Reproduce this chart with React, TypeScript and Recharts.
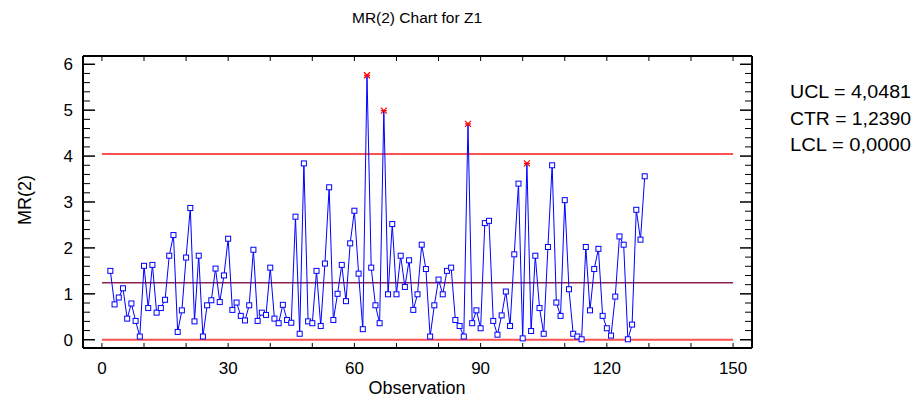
import { LineChart, Line, XAxis, YAxis, ReferenceLine } from "recharts";

// moving ranges, observations 2..129
const mrValues = [
  1.5, 0.77, 0.92, 1.12, 0.46, 0.79, 0.41, 0.07, 1.61, 0.69, 1.63, 0.59, 0.69, 0.87, 1.83, 2.28, 0.17, 0.64, 1.79,
  2.87, 0.4, 1.83, 0.07,
  0.75, 0.86, 1.55, 0.82, 1.4, 2.2, 0.65, 0.81, 0.52, 0.42, 0.75, 1.96, 0.41, 0.59, 0.54, 1.57, 0.46, 0.36, 0.76,
  0.43, 0.37, 2.68, 0.13, 3.84,
  0.4, 0.36, 1.5, 0.3, 1.66, 3.32, 0.43, 1.0, 1.63, 0.84, 2.1, 2.81, 1.44, 0.23, 5.76, 1.57, 0.75, 0.36, 4.99, 0.99,
  2.52, 0.99, 1.83, 1.15, 1.73, 0.65,
  0.99, 2.07, 1.54, 0.07, 0.75, 1.31, 0.99, 1.5, 1.57, 0.43, 0.3, 0.07, 4.7, 0.36, 0.64, 0.25, 2.54, 2.59, 0.41, 0.11,
  0.53, 1.05, 0.3, 1.86, 3.4,
  0.03, 3.84, 0.19, 1.83, 0.69, 0.13, 2.02, 3.8, 0.81, 0.52, 3.04, 1.1, 0.13, 0.07, 0.01, 2.02, 0.64, 1.54, 1.98, 0.52,
  0.25, 0.09, 0.94, 2.25, 2.07,
  0.01, 0.33, 2.83, 2.18, 3.56,
];
const firstObs = 2;
const flaggedObs = [63, 67, 87, 101];

const UCL = 4.0481;
const CTR = 1.239;
const LCL = 0;
const legendLines = ["UCL = 4,0481", "CTR = 1,2390", "LCL = 0,0000"];

const xMajorTicks = [0, 30, 60, 90, 120, 150];
const yMajorTicks = [0, 1, 2, 3, 4, 5, 6];
const xMinorStep = 10;
const yMinorStep = 0.2;

const data = mrValues.map((mr, i) => ({
  obs: i + firstObs,
  mr,
  flag: flaggedObs.includes(i + firstObs),
}));

const xTicks: number[] = [];
for (let v = 0; v <= 150; v += xMinorStep) xTicks.push(v);
const yTicks: number[] = [];
for (let i = 0; i <= 30; i++) yTicks.push(Math.round(i * yMinorStep * 10) / 10);

const font = "'Liberation Sans', Arial, sans-serif";
const isMajorY = (v: number) => yMajorTicks.includes(v);

const BottomTick = (props: any) => {
  const { x, y, payload } = props;
  const v = payload.value;
  return (
    <g>
      <line x1={x} x2={x} y1={y} y2={y - 5} stroke="#000" strokeWidth={1} />
      {xMajorTicks.includes(v) && (
        <text x={x} y={y + 26} textAnchor="middle" fontSize={17} fontFamily={font} fill="#000">
          {v}
        </text>
      )}
    </g>
  );
};

const TopTick = (props: any) => {
  const { x, y } = props;
  return <line x1={x} x2={x} y1={y} y2={y + 5} stroke="#000" strokeWidth={1} />;
};

const LeftTick = (props: any) => {
  const { x, y, payload } = props;
  const major = isMajorY(payload.value);
  return (
    <g>
      <line x1={x} x2={x + (major ? 12 : 7)} y1={y} y2={y} stroke="#000" strokeWidth={major ? 1.5 : 1} />
      {major && (
        <text x={x - 10} y={y + 6} textAnchor="end" fontSize={17} fontFamily={font} fill="#000">
          {payload.value}
        </text>
      )}
    </g>
  );
};

const RightTick = (props: any) => {
  const { x, y, payload } = props;
  const major = isMajorY(payload.value);
  return (
    <line x1={x} x2={x - (major ? 12 : 7)} y1={y} y2={y} stroke="#000" strokeWidth={major ? 1.5 : 1} />
  );
};

const renderDot = (props: any) => {
  const { cx, cy, payload, index } = props;
  if (payload.flag) {
    return (
      <g key={`d${index}`} stroke="#ff0000" strokeWidth={1.2}>
        <line x1={cx - 3} y1={cy - 3} x2={cx + 3} y2={cy + 3} />
        <line x1={cx - 3} y1={cy + 3} x2={cx + 3} y2={cy - 3} />
        <line x1={cx - 3} y1={cy} x2={cx + 3} y2={cy} />
      </g>
    );
  }
  return (
    <rect
      key={`d${index}`}
      x={cx - 2.5}
      y={cy - 2.5}
      width={5}
      height={5}
      fill="#fff"
      stroke="#0000ff"
      strokeWidth={1}
    />
  );
};

const frame = { stroke: "#000", strokeWidth: 2 };

export default function App() {
  // negative margins cancel the default body margin so the chart fills the 920x405 page
  return (
    <div style={{ position: "relative", width: 920, height: 405, margin: "-8px 0 -8px -8px" }}>
      <LineChart width={920} height={405} data={data} margin={{ top: 55, right: 167, bottom: 0, left: 0 }}>
        <XAxis
          xAxisId="b"
          dataKey="obs"
          type="number"
          domain={[-4.5, 154.5]}
          allowDataOverflow
          ticks={xTicks}
          interval={0}
          tickSize={0}
          tickMargin={0}
          tickLine={false}
          axisLine={frame}
          tick={<BottomTick />}
          height={57}
        />
        <XAxis
          xAxisId="t"
          orientation="top"
          dataKey="obs"
          type="number"
          domain={[-4.5, 154.5]}
          allowDataOverflow
          ticks={xTicks}
          interval={0}
          tickSize={0}
          tickMargin={0}
          tickLine={false}
          axisLine={frame}
          tick={<TopTick />}
          height={1}
        />
        <YAxis
          yAxisId="l"
          type="number"
          domain={[-0.18, 6.18]}
          allowDataOverflow
          ticks={yTicks}
          interval={0}
          tickSize={0}
          tickMargin={0}
          tickLine={false}
          axisLine={frame}
          tick={<LeftTick />}
          width={83}
        />
        <YAxis
          yAxisId="r"
          orientation="right"
          type="number"
          domain={[-0.18, 6.18]}
          allowDataOverflow
          ticks={yTicks}
          interval={0}
          tickSize={0}
          tickMargin={0}
          tickLine={false}
          axisLine={frame}
          tick={<RightTick />}
          width={1}
        />
        <ReferenceLine
          xAxisId="b"
          yAxisId="l"
          segment={[{ x: 0, y: UCL }, { x: 150, y: UCL }]}
          stroke="#ff5050"
          strokeWidth={2}
        />
        <ReferenceLine
          xAxisId="b"
          yAxisId="l"
          segment={[{ x: 0, y: CTR }, { x: 150, y: CTR }]}
          stroke="#8b2252"
          strokeWidth={1.5}
        />
        <ReferenceLine
          xAxisId="b"
          yAxisId="l"
          segment={[{ x: 0, y: LCL }, { x: 150, y: LCL }]}
          stroke="#ff5050"
          strokeWidth={2}
        />
        <Line
          xAxisId="b"
          yAxisId="l"
          type="linear"
          dataKey="mr"
          stroke="#0000ff"
          strokeWidth={1}
          dot={renderDot}
          activeDot={false}
          isAnimationActive={false}
        />
      </LineChart>
      <svg
        width={920}
        height={405}
        style={{ position: "absolute", left: 0, top: 0, pointerEvents: "none" }}
        fontFamily={font}
      >
        <text x={417} y={23} textAnchor="middle" fontSize={15.5} fill="#000">
          MR(2) Chart for Z1
        </text>
        <text x={0} y={0} transform="translate(31,200) rotate(-90)" textAnchor="middle" fontSize={18} fill="#000">
          MR(2)
        </text>
        <text x={417} y={394} textAnchor="middle" fontSize={18} fill="#000">
          Observation
        </text>
        {legendLines.map((t, i) => (
          <text
            key={t}
            x={790}
            y={98 + i * 26.5}
            fontSize={18}
            textLength={121}
            lengthAdjust="spacingAndGlyphs"
            fill="#000"
          >
            {t}
          </text>
        ))}
      </svg>
    </div>
  );
}
